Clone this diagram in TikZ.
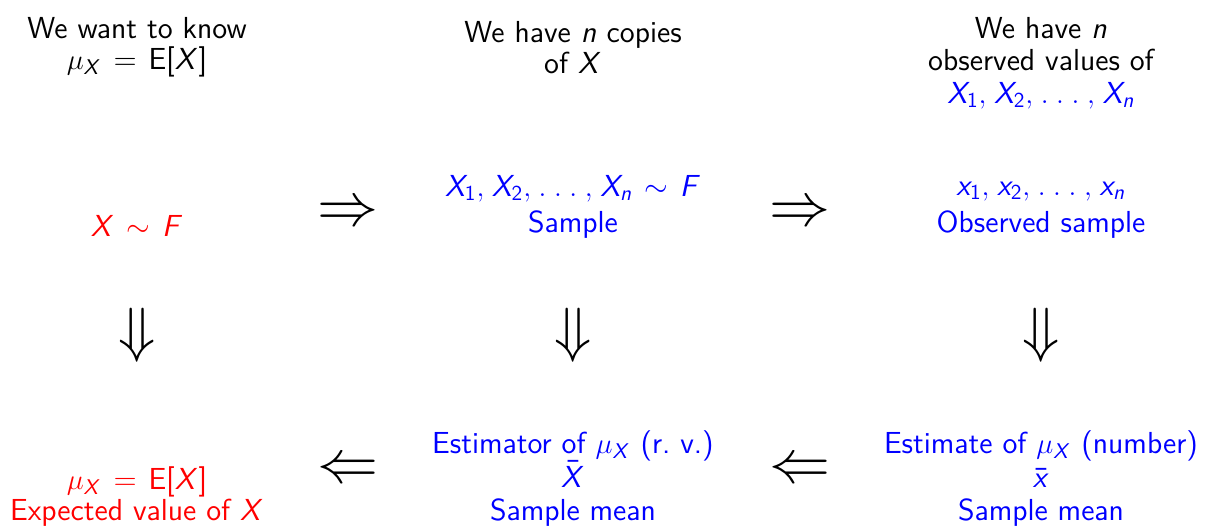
\documentclass[tikz,border=0pt]{standalone}
\DeclareFontFamily{OT1}{mycmss}{}
\DeclareFontShape{OT1}{mycmss}{m}{n}{<-8.5> cmss8 <8.5-9.5> cmss9 <9.5-11> cmss10 <11-> cmss12}{}
\DeclareFontShape{OT1}{mycmss}{m}{it}{<-8.5> cmssi8 <8.5-9.5> cmssi9 <9.5-11> cmssi10 <11-> cmssi12}{}
\DeclareFontFamily{OMS}{mycmsy}{\skewchar\font48 }
\DeclareFontShape{OMS}{mycmsy}{m}{n}{<-7.5> cmsy7 <7.5-9.5> cmsy9 <9.5-> cmsy10}{}
\DeclareSymbolFont{sfit}{OT1}{mycmss}{m}{it}
\SetSymbolFont{operators}{normal}{OT1}{mycmss}{m}{n}
\SetSymbolFont{symbols}{normal}{OMS}{mycmsy}{m}{n}
\DeclareMathSymbol{X}{\mathalpha}{sfit}{`X}
\DeclareMathSymbol{F}{\mathalpha}{sfit}{`F}
\DeclareMathSymbol{n}{\mathalpha}{sfit}{`n}
\DeclareMathSymbol{x}{\mathalpha}{sfit}{`x}
\newcommand\mynolsl{\lineskiplimit=-100pt\relax\thinmuskip=4.5mu\relax\thickmuskip=7mu plus 5mu\relax}
\begin{document}
\begin{tikzpicture}[x=0.5pt,y=-0.5pt,
  txt/.style={align=center,font={\sffamily\fontsize{15.2}{15.5}\selectfont\mynolsl},inner sep=0pt},
  arr/.style={font=\fontsize{30.5}{36}\selectfont,inner sep=0pt}]
\useasboundingbox (0,0) rectangle (1208,525);
% top row
\node[txt] (know) at (137,47.5) {We want to know\\ $\mu_X = \mathrm{E}[X]$};
\node[txt] (copies) at (573,47.5) {We have $n$ copies\\ of $X$};
\node[txt] (obsv) at (1041,63) {We have $n$\\[0.5pt] observed values of\\[1pt] \textcolor{blue}{$X_1, X_2, \ldots, X_n$}};
% second row
\node[txt,text=red] (dist) at (137,226) {$X \sim F$};
\node[txt,text=blue] (sample) at (573,206.5) {$X_1, X_2, \ldots, X_n \sim F$\\[2.5pt] Sample};
\node[txt,text=blue] (osample) at (1041,210) {$x_1, x_2, \ldots, x_n$\\[3pt] Observed sample};
\node[arr] (r1) at (348,214) {$\Rightarrow$};
\node[arr] (r2) at (800,214) {$\Rightarrow$};
% down arrows
\node[arr] (d1) at (137,335) {$\Downarrow$};
\node[arr] (d2) at (573,335) {$\Downarrow$};
\node[arr] (d3) at (1041,335) {$\Downarrow$};
% bottom row
\node[txt,text=red] (mean) at (137,497) {$\mu_X = \mathrm{E}[X]$\\ Expected value of $X$};
\node[txt,text=blue] (estor) at (573,478.5) {Estimator of $\mu_X$ (r.\ v.)\\[1.5pt] $\bar{X}$\\[1pt] Sample mean};
\node[txt,text=blue] (estim) at (1041,478.5) {Estimate of $\mu_X$ (number)\\[1.5pt] $\bar{x}$\\[1pt] Sample mean};
\node[arr] (l1) at (348,471) {$\Leftarrow$};
\node[arr] (l2) at (800,471) {$\Leftarrow$};
\end{tikzpicture}
\end{document}
